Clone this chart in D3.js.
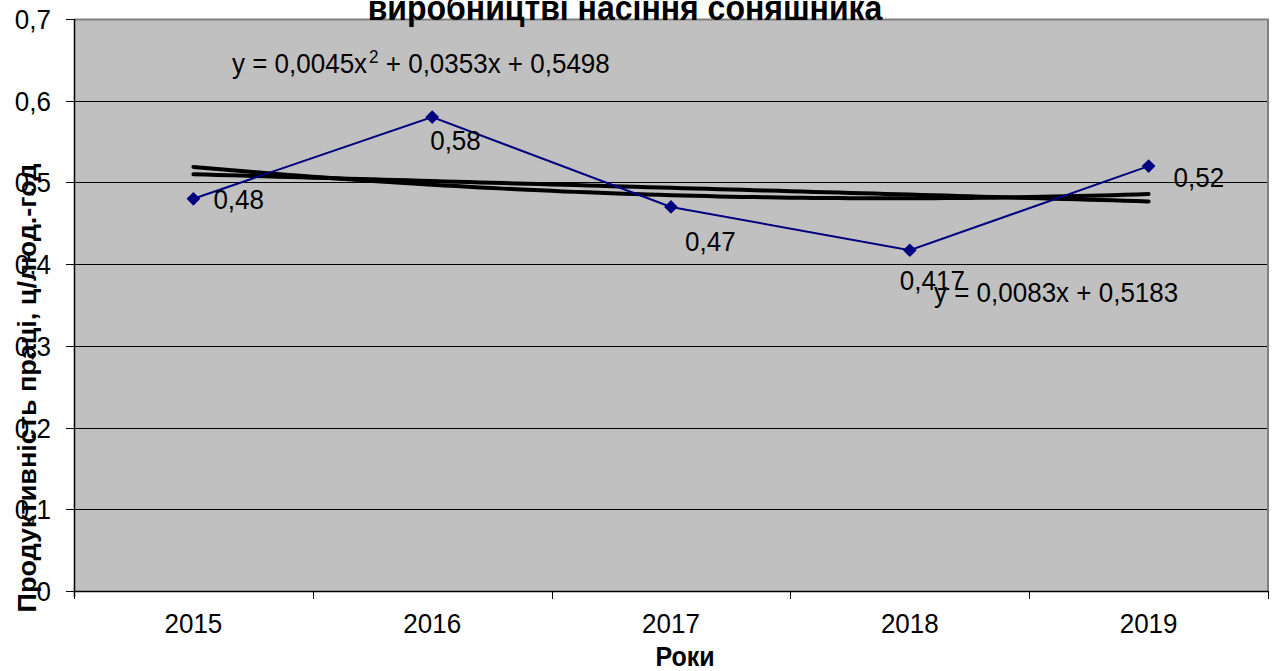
<!DOCTYPE html>
<html>
<head>
<meta charset="utf-8">
<script src="https://cdn.jsdelivr.net/npm/d3@7"></script>
<style>
  body { margin: 0; background: #fff; }
  text { font-family: "Liberation Sans", Arial, sans-serif; }
</style>
</head>
<body>
<div id="chart"></div>
<script>
// data
var years = ['2015', '2016', '2017', '2018', '2019'];
var productivity = [0.48, 0.58, 0.47, 0.417, 0.52];
var value_labels = ['0,48', '0,58', '0,47', '0,417', '0,52'];
var y_ticks = [0, 0.1, 0.2, 0.3, 0.4, 0.5, 0.6, 0.7];
var y_tick_labels = ['0', '0,1', '0,2', '0,3', '0,4', '0,5', '0,6', '0,7'];

// trend lines (x = 1..5)
var poly_coef = [0.0045, -0.0353, 0.5498];
var lin_coef = [-0.0083, 0.5183];
var poly_label = ['y = 0,0045x', '2', ' + 0,0353x + 0,5498'];
var lin_label = 'y = 0,0083x + 0,5183';

// label offsets (dragged by hand in the original)
var label_dx = [20, -2, 14, -10, 25];
var label_dy = [0, 23, 34, 30, 11];

var chart_width = 1277;
var chart_height = 671;
var plot = { left: 74, right: 1268, top: 19, bottom: 591 };
var stretch = 1.08; // text in the original is slightly taller than wide

function place(x, y, extra) {
  return 'translate(' + x + ',' + y + ') scale(1,' + stretch + ')' + (extra || '');
}

var svg = d3.select('#chart')
  .append('svg')
  .attr('width', chart_width)
  .attr('height', chart_height);

var x_scale = d3.scaleBand()
  .domain(years)
  .range([plot.left, plot.right]);

var y_scale = d3.scaleLinear()
  .domain([0, 0.7])
  .range([plot.bottom, plot.top]);

// plot background
svg.append('rect')
  .attr('x', plot.left)
  .attr('y', plot.top)
  .attr('width', plot.right - plot.left)
  .attr('height', plot.bottom - plot.top)
  .attr('fill', '#c0c0c0');

// gridlines
svg.selectAll('.grid')
  .data(y_ticks.slice(1, -1))
  .enter()
  .append('line')
  .attr('x1', plot.left)
  .attr('x2', plot.right)
  .attr('y1', function(d) { return Math.round(y_scale(d)) + 0.5; })
  .attr('y2', function(d) { return Math.round(y_scale(d)) + 0.5; })
  .attr('stroke', '#000')
  .attr('stroke-width', 1);

// top and right border
svg.append('path')
  .attr('d', 'M' + plot.left + ',' + (plot.top + 0.5) + 'H' + plot.right + 'V' + plot.bottom)
  .attr('fill', 'none')
  .attr('stroke', '#808080')
  .attr('stroke-width', 2);

// y axis
svg.append('line')
  .attr('x1', plot.left + 0.5).attr('x2', plot.left + 0.5)
  .attr('y1', plot.top).attr('y2', plot.bottom + 6)
  .attr('stroke', '#000').attr('stroke-width', 1.5);

svg.selectAll('.ytick')
  .data(y_ticks)
  .enter()
  .append('line')
  .attr('x1', plot.left - 8)
  .attr('x2', plot.left)
  .attr('y1', function(d) { return Math.round(y_scale(d)) + 0.5; })
  .attr('y2', function(d) { return Math.round(y_scale(d)) + 0.5; })
  .attr('stroke', '#000');

svg.selectAll('.ylabel')
  .data(y_ticks)
  .enter()
  .append('text')
  .text(function(d, i) { return y_tick_labels[i]; })
  .attr('transform', function(d) { return place(51, y_scale(d) + 10); })
  .attr('text-anchor', 'end')
  .attr('font-size', 26)
  .attr('fill', '#000');

// x axis
svg.append('line')
  .attr('x1', plot.left).attr('x2', plot.right)
  .attr('y1', plot.bottom + 0.5).attr('y2', plot.bottom + 0.5)
  .attr('stroke', '#000').attr('stroke-width', 1.5);

var x_tick_pos = years.map(function(d) { return x_scale(d); }).concat([plot.right]);
svg.selectAll('.xtick')
  .data(x_tick_pos)
  .enter()
  .append('line')
  .attr('x1', function(d) { return Math.round(d) + 0.5; })
  .attr('x2', function(d) { return Math.round(d) + 0.5; })
  .attr('y1', plot.bottom)
  .attr('y2', plot.bottom + 8)
  .attr('stroke', '#000');

svg.selectAll('.xlabel')
  .data(years)
  .enter()
  .append('text')
  .text(function(d) { return d; })
  .attr('transform', function(d) { return place(x_scale(d) + x_scale.bandwidth() / 2, 633); })
  .attr('text-anchor', 'middle')
  .attr('font-size', 26)
  .attr('fill', '#000');

// trend lines
var trend_x = d3.range(1, 5.001, 0.05);
var x_num = d3.scaleLinear()
  .domain([1, 5])
  .range([x_scale(years[0]) + x_scale.bandwidth() / 2, x_scale(years[4]) + x_scale.bandwidth() / 2]);

var trend_line = d3.line()
  .x(function(d) { return x_num(d[0]); })
  .y(function(d) { return y_scale(d[1]); });

svg.append('path')
  .datum(trend_x.map(function(t) { return [t, poly_coef[0] * t * t + poly_coef[1] * t + poly_coef[2]]; }))
  .attr('d', trend_line)
  .attr('fill', 'none')
  .attr('stroke', '#000')
  .attr('stroke-width', 4)
  .attr('stroke-linecap', 'round');

svg.append('path')
  .datum(trend_x.map(function(t) { return [t, lin_coef[0] * t + lin_coef[1]]; }))
  .attr('d', trend_line)
  .attr('fill', 'none')
  .attr('stroke', '#000')
  .attr('stroke-width', 4)
  .attr('stroke-linecap', 'round');

// data line
var line = d3.line()
  .x(function(d, i) { return x_scale(years[i]) + x_scale.bandwidth() / 2; })
  .y(function(d) { return y_scale(d); });

svg.append('path')
  .datum(productivity)
  .attr('d', line)
  .attr('fill', 'none')
  .attr('stroke', '#000080')
  .attr('stroke-width', 2);

svg.selectAll('.marker')
  .data(productivity)
  .enter()
  .append('path')
  .attr('d', d3.symbol().type(d3.symbolDiamond2).size(120))
  .attr('transform', function(d, i) {
    return 'translate(' + (x_scale(years[i]) + x_scale.bandwidth() / 2) + ',' + y_scale(d) + ')';
  })
  .attr('fill', '#000080');

// value labels
svg.selectAll('.vlabel')
  .data(productivity)
  .enter()
  .append('text')
  .text(function(d, i) { return value_labels[i]; })
  .attr('transform', function(d, i) {
    return place(x_scale(years[i]) + x_scale.bandwidth() / 2 + label_dx[i], y_scale(d) + label_dy[i] + 10);
  })
  .attr('font-size', 26)
  .attr('fill', '#000');

// equations
var poly_text = svg.append('text')
  .attr('transform', place(232, 73))
  .attr('font-size', 26)
  .attr('fill', '#000');
poly_text.append('tspan').text(poly_label[0]);
poly_text.append('tspan').text(poly_label[1]).attr('font-size', 17).attr('dx', 2).attr('dy', -9);
poly_text.append('tspan').text(poly_label[2]).attr('dy', 9);

svg.append('text')
  .text(lin_label)
  .attr('transform', place(934, 302))
  .attr('font-size', 26)
  .attr('fill', '#000');

// title (upper line cut off)
svg.append('text')
  .text('виробництві насіння соняшника')
  .attr('transform', place(625, 20))
  .attr('text-anchor', 'middle')
  .attr('font-size', 32)
  .attr('font-weight', 'bold')
  .attr('fill', '#000');

// axis titles
svg.append('text')
  .text('Продуктивність праці, ц/люд.-год')
  .attr('transform', place(36, 388, ' rotate(-90)'))
  .attr('text-anchor', 'middle')
  .attr('font-size', 25)
  .attr('font-weight', 'bold')
  .attr('fill', '#000');

svg.append('text')
  .text('Роки')
  .attr('transform', place(685, 666))
  .attr('text-anchor', 'middle')
  .attr('font-size', 25)
  .attr('font-weight', 'bold')
  .attr('fill', '#000');
</script>
</body>
</html>
